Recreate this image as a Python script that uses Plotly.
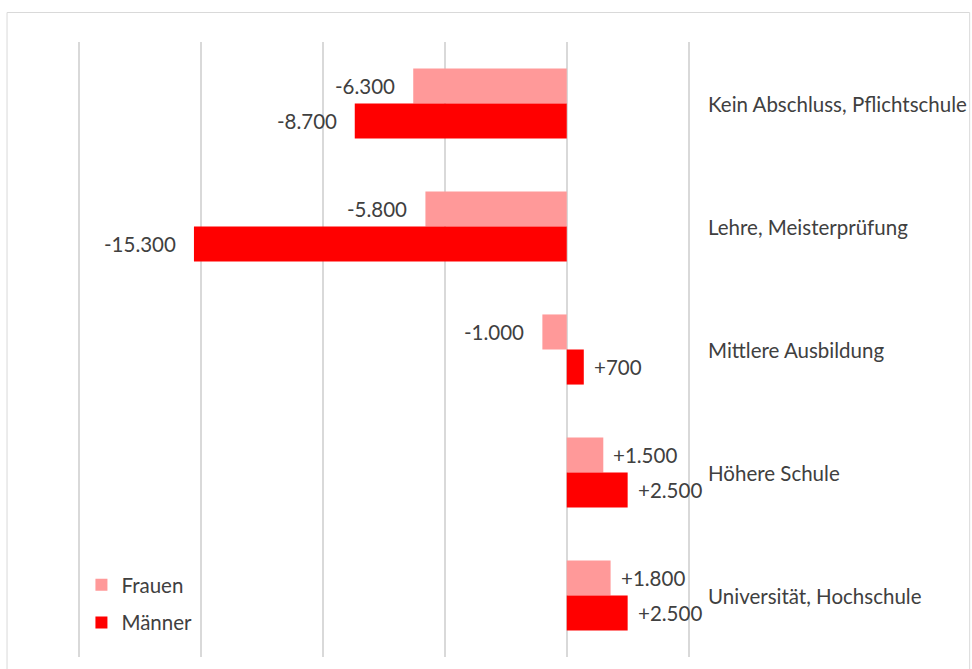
import plotly.graph_objects as go

categories = ["Kein Abschluss, Pflichtschule", "Lehre, Meisterprüfung",
              "Mittlere Ausbildung", "Höhere Schule", "Universität, Hochschule"]
frauen = [-6300, -5800, -1000, 1500, 1800]
maenner = [-8700, -15300, 700, 2500, 2500]
series_names = ["Frauen", "Männer"]
colors = ["#FF9999", "#FF0000"]

FONT = "Lato"
TXT = "#404040"
FS = 20.5

W, H = 972, 669
XMIN, XMAX = -20100, 5100
PXU = 122 / 5000
ML = 567 - (0 - XMIN) * PXU
MR = W - (567 + XMAX * PXU)
MT, MB = 42, 12
pw = W - ML - MR
ph = H - MT - MB

def fmt(v):
    return f"{v:+,}".replace(",", ".")

fig = go.Figure()
for i, (name, vals) in enumerate(zip(series_names, [frauen, maenner])):
    fig.add_trace(go.Bar(
        y=categories, x=vals, name=name, orientation="h",
        marker=dict(color=colors[i], line=dict(width=0)),
        legendgroup=name, hoverinfo="skip",
    ))

annotations = []
for i, vals in enumerate([frauen, maenner]):
    ysh = 17.5 if i == 0 else -17.5
    for c, v in zip(categories, vals):
        annotations.append(dict(
            x=v, y=c, xref="x", yref="y", text=fmt(v), showarrow=False,
            xanchor="right" if v < 0 else "left",
            xshift=-16 if v < 0 else 8, yshift=ysh,
            font=dict(family=FONT, size=FS, color=TXT),
        ))
for c in categories:
    annotations.append(dict(
        x=(706 - ML) / pw, y=c, xref="paper", yref="y", text=c,
        showarrow=False, xanchor="left", yanchor="middle",
        font=dict(family=FONT, size=FS, color=TXT),
    ))

fig.update_layout(
    width=W, height=H,
    margin=dict(l=ML, r=MR, t=MT, b=MB, pad=0),
    paper_bgcolor="white", plot_bgcolor="white",
    barmode="group", bargap=0.43, bargroupgap=0,
    font=dict(family=FONT, size=FS, color=TXT),
    xaxis=dict(range=[XMIN, XMAX], dtick=5000, tick0=0,
               showticklabels=False, showgrid=True, gridcolor="#D9D9D9",
               gridwidth=1.5, zeroline=True, zerolinecolor="#D9D9D9",
               zerolinewidth=1.5, showline=False, ticks=""),
    yaxis=dict(autorange="reversed", showticklabels=False, showgrid=False,
               zeroline=False, showline=False, ticks=""),
    legend=dict(x=(81 - ML) / pw, y=(H - MB - 565) / ph, xanchor="left",
                yanchor="top", bgcolor="rgba(0,0,0,0)", traceorder="grouped",
                tracegroupgap=8, font=dict(family=FONT, size=FS, color=TXT)),
    showlegend=True,
    annotations=annotations,
    shapes=[dict(type="rect", xref="paper", yref="paper",
                 x0=(6.5 - ML) / pw, x1=(970.5 - ML) / pw,
                 y0=(H - MB - 675) / ph, y1=(H - MB - 12.5) / ph,
                 line=dict(color="#D9D9D9", width=1), fillcolor="rgba(0,0,0,0)",
                 layer="below")],
)

fig.write_html("out.html")
